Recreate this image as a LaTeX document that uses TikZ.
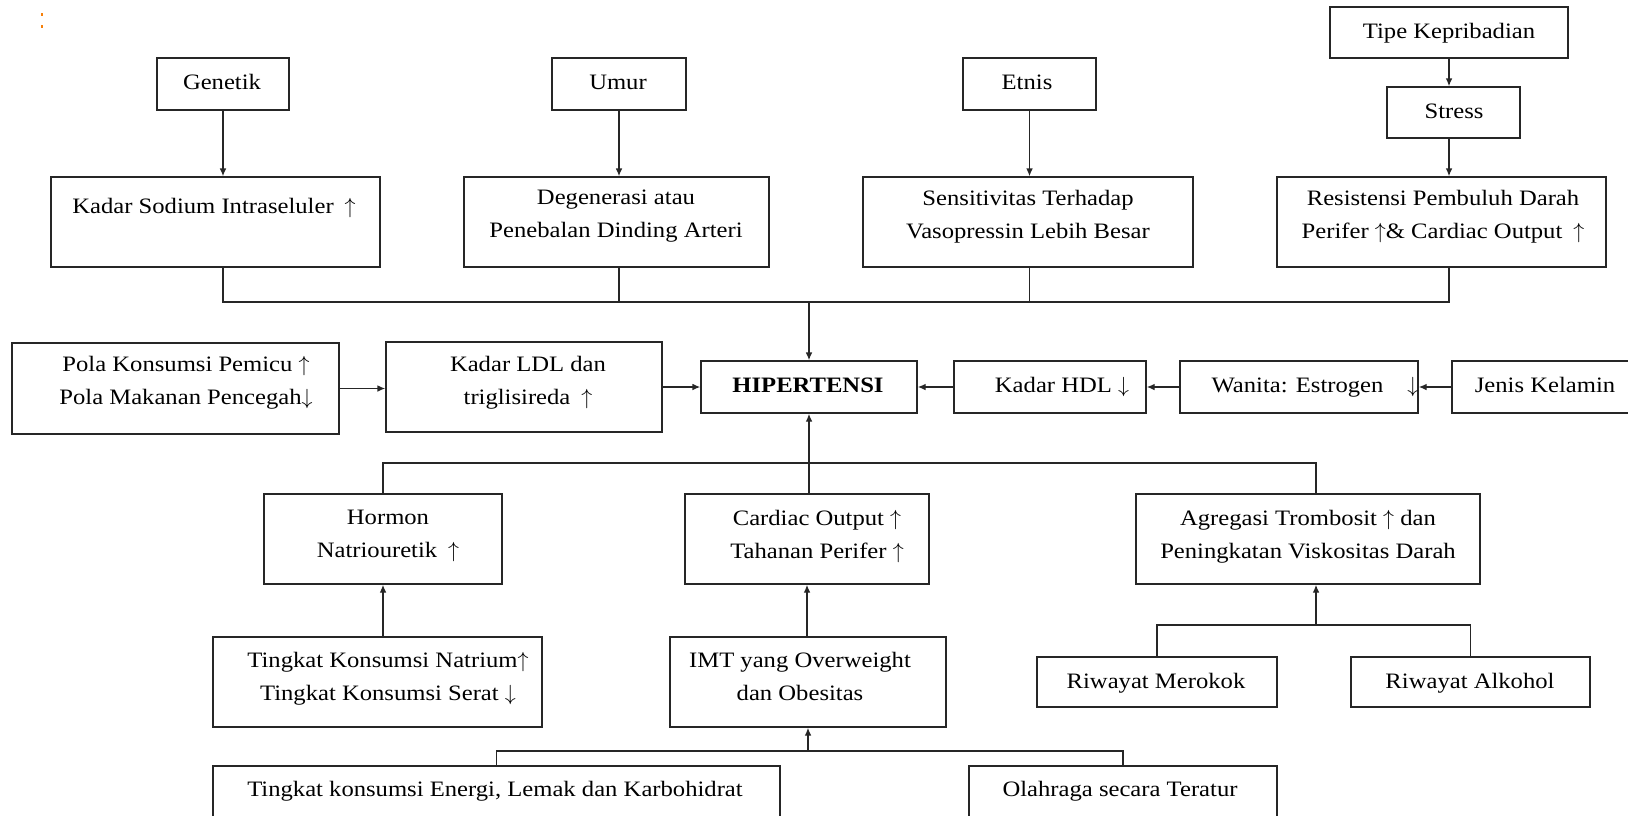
\documentclass[tikz,border=0pt]{standalone}
\usepackage{fontspec}
\setmainfont{Liberation Serif}[FakeStretch=1.12]
\usetikzlibrary{arrows.meta,fit}
\newcommand{\myup}{$\uparrow$}
\newcommand{\mydn}{$\downarrow$}
\begin{document}
\begin{tikzpicture}[x=0.5pt,y=-0.5pt,
  bx/.style={draw=black!85, line width=0.7pt, inner sep=0pt},
  txt/.style={inner sep=0pt, align=center, anchor=north,
    font=\fontsize{11}{16.2}\selectfont, execute at begin node=\strut},
  ln/.style={draw=black!85, line width=0.7pt},
  arr/.style={ln, -{Latex[length=4pt,width=3.4pt]}}]
\useasboundingbox (0,0) rectangle (1628,815);
\clip (0,0) rectangle (1628,815);
% tiny marks top-left
\fill[orange!85!brown] (41,13) rectangle (43,16);
\fill[orange!85!brown] (41,25) rectangle (43,28);
% boxes
\node[bx, fit={(157,58) (289,110)}] (gen) {};
\node[bx, fit={(552,58) (686,110)}] (umur) {};
\node[bx, fit={(963,58) (1096,110)}] (etnis) {};
\node[bx, fit={(1330,7) (1568,58)}] (tipe) {};
\node[bx, fit={(1387,87) (1520,138)}] (stress) {};
\node[bx, fit={(51,177) (380,267)}] (sod) {};
\node[bx, fit={(464,177) (769,267)}] (deg) {};
\node[bx, fit={(863,177) (1193,267)}] (sens) {};
\node[bx, fit={(1277,177) (1606,267)}] (res) {};
\node[bx, fit={(701,361) (917,413)}] (hip) {};
\node[bx, fit={(12,343) (339,434)}] (pola) {};
\node[bx, fit={(386,342) (662,432)}] (ldl) {};
\node[bx, fit={(954,361) (1146,413)}] (hdl) {};
\node[bx, fit={(1180,361) (1418,413)}] (wan) {};
\node[bx, fit={(1452,361) (1645,413)}] (jen) {};
\node[bx, fit={(264,494) (502,584)}] (horm) {};
\node[bx, fit={(685,494) (929,584)}] (card) {};
\node[bx, fit={(1136,494) (1480,584)}] (agr) {};
\node[bx, fit={(213,637) (542,727)}] (nat) {};
\node[bx, fit={(670,637) (946,727)}] (imt) {};
\node[bx, fit={(1037,657) (1277,707)}] (mer) {};
\node[bx, fit={(1351,657) (1590,707)}] (alk) {};
\node[bx, fit={(213,766) (780,840)}] (ener) {};
\node[bx, fit={(969,766) (1277,840)}] (ola) {};
% texts (single line)
\node[txt] (tgen) at (222,66) {Genetik};
\node[txt] (tumur) at (618,66) {Umur};
\node[txt] (tetnis) at (1027,66) {Etnis};
\node[txt] (ttipe) at (1449,15) {Tipe Kepribadian};
\node[txt] (tstress) at (1454,95) {Stress};
\node[txt] (thip) at (808,369) {\textbf{HIPERTENSI}};
\node[txt] (thdl) at (1062,369) {Kadar HDL \mydn};
\node[txt] (twan) at (1315,369) {Wanita: Estrogen\hspace{12pt}\mydn};
\node[txt] (tjen) at (1545,369) {Jenis Kelamin};
\node[txt] (tmer) at (1156,665) {Riwayat Merokok};
\node[txt] (talk) at (1470,665) {Riwayat Alkohol};
% texts (top-aligned in tall boxes)
\node[txt] (tsod) at (214,190) {Kadar Sodium Intraseluler\enspace\myup};
\node[txt] (tdeg) at (616,190) {Degenerasi atau\\Penebalan Dinding Arteri};
\node[txt] (tsens) at (1028,190) {Sensitivitas Terhadap\\Vasopressin Lebih Besar};
\node[txt] (tres) at (1443,190) {Resistensi Pembuluh Darah\\Perifer \myup\& Cardiac Output\enspace\myup};
\node[txt] (tpola) at (186,356) {Pola Konsumsi Pemicu \myup\\Pola Makanan Pencegah\mydn};
\node[txt] (tldl) at (528,356) {Kadar LDL dan\\triglisireda\enspace\myup};
\node[txt] (thorm) at (388,510) {Hormon\\Natriouretik\enspace\myup};
\node[txt] (tcard) at (817,510) {Cardiac Output \myup\\Tahanan Perifer \myup};
\node[txt] (tagr) at (1308,510) {Agregasi Trombosit \myup\ dan\\Peningkatan Viskositas Darah};
\node[txt] (tnat) at (388,652) {Tingkat Konsumsi Natrium\myup\\Tingkat Konsumsi Serat \mydn};
\node[txt] (timt) at (800,652) {IMT yang Overweight\\dan Obesitas};
\node[txt] (tener) at (495,773) {Tingkat konsumsi Energi, Lemak dan Karbohidrat};
\node[txt] (tola) at (1120,773) {Olahraga secara Teratur};
% bus coordinates
\coordinate (busT) at (812,302);
\coordinate (busM) at (812,463);
\coordinate (busR) at (1316,625);
\coordinate (busB) at (812,751);
% top arrows
\draw[arr] (gen.south) -- (gen.south |- sod.north);
\draw[arr] (umur.south) -- (umur.south |- deg.north);
\draw[arr] (etnis.south) -- (etnis.south |- sens.north);
\draw[arr] (tipe.south) -- (tipe.south |- stress.north);
\draw[arr] (tipe.south |- stress.south) -- (tipe.south |- res.north);
% top bus
\draw[ln] (gen.south |- sod.south) -- (gen.south |- busT) -- (tipe.south |- busT) -- (tipe.south |- res.south);
\draw[ln] (umur.south |- deg.south) -- (umur.south |- busT);
\draw[ln] (etnis.south |- sens.south) -- (etnis.south |- busT);
\draw[arr] (hip.north |- busT) -- (hip.north);
% horizontal chain
\draw[arr] (pola.east) -- (pola.east -| ldl.west);
\draw[arr] (ldl.east) -- (ldl.east -| hip.west);
\draw[arr] (hdl.west) -- (hdl.west -| hip.east);
\draw[arr] (wan.west) -- (wan.west -| hdl.east);
\draw[arr] (jen.west |- wan.east) -- (wan.east);
% middle bus
\draw[ln] (horm.north) -- (horm.north |- busM) -- (busR |- busM) -- (busR |- agr.north);
\draw[arr] (hip.south |- card.north) -- (hip.south);
% lower arrows
\draw[arr] (horm.south |- nat.north) -- (horm.south);
\draw[arr] (card.south |- imt.north) -- (card.south);
\draw[ln] (mer.north) -- (mer.north |- busR) -- (alk.north |- busR) -- (alk.north);
\draw[arr] (busR) -- (busR |- agr.south);
\draw[ln] (ener.north) -- (ener.north |- busB) -- (ola.north |- busB) -- (ola.north);
\draw[arr] (imt.south |- busB) -- (imt.south);
\end{tikzpicture}
\end{document}
